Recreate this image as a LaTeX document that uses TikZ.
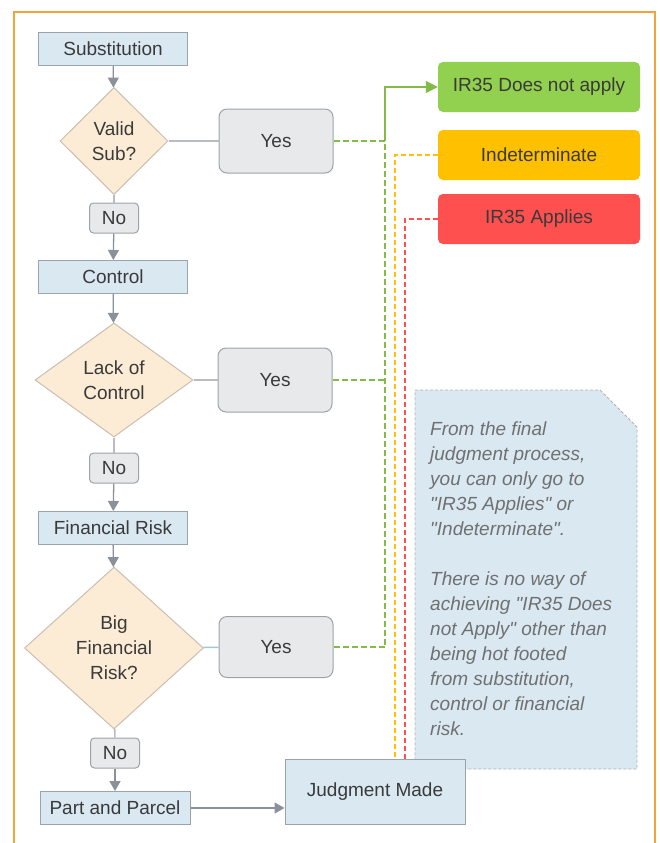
\documentclass[tikz,border=0pt]{standalone}
\usepackage{fontspec}
\setmainfont{Liberation Sans}
\newfontfamily\notefont{Liberation Sans}
\usepackage{xcolor}
\usetikzlibrary{shapes.geometric,arrows.meta,positioning}
\definecolor{boxblue}{HTML}{DAE8F2}
\definecolor{boxline}{HTML}{9AA4AC}
\definecolor{peach}{HTML}{FCEBD5}
\definecolor{peachline}{HTML}{C9C0B2}
\definecolor{ansgray}{HTML}{E8E9EB}
\definecolor{ansline}{HTML}{9EA3A8}
\definecolor{flowgray}{HTML}{8A9198}
\definecolor{txt}{HTML}{3A3A3A}
\definecolor{notetxt}{HTML}{707070}
\definecolor{okgreen}{HTML}{92D050}
\definecolor{indyellow}{HTML}{FFC000}
\definecolor{badred}{HTML}{FF5050}
\definecolor{frameorange}{HTML}{F2A33A}
\tikzset{
  stepbox/.style={rectangle, draw=boxline, fill=boxblue, line width=1pt,
                  minimum width=149pt, minimum height=33pt, inner sep=0pt,
                  text=txt, font=\fontsize{19}{25}\selectfont},
  decision/.style={diamond, draw=peachline, fill=peach, line width=1pt,
                   inner sep=0pt, align=center, text=txt,
                   font=\fontsize{19}{25}\selectfont},
  answer/.style={rectangle, rounded corners=8pt, draw=ansline, fill=ansgray,
                 line width=1pt, minimum width=114pt, minimum height=64pt,
                 inner sep=0pt, text=txt, font=\fontsize{19}{25}\selectfont},
  noans/.style={answer, rounded corners=4pt, minimum width=49pt,
                minimum height=30pt},
  outcome/.style={rectangle, rounded corners=5pt, minimum width=202pt,
                  minimum height=50pt, inner sep=0pt, text=txt,
                  font=\fontsize{19}{25}\selectfont},
  flow/.style={draw=flowgray, line width=1.3pt,
               -{Triangle[length=10pt,width=11pt]}},
  link/.style={draw=flowgray!60, line width=1.6pt},
  yesdash/.style={draw=okgreen!90!black, line width=1.7pt,
                  dash pattern=on 6pt off 3pt},
  inddash/.style={draw=indyellow, line width=1.6pt, dash pattern=on 5pt off 3pt},
  baddash/.style={draw=badred, line width=1.6pt, dash pattern=on 5pt off 3pt}
}

\begin{document}
\begin{tikzpicture}[x=1pt,y=-1pt]
  \useasboundingbox (0,0) rectangle (660,843);
  \clip (0,0) rectangle (660,843);
  % frame
  \draw[frameorange, line width=2pt] (14,860) -- (14,12) -- (655,12) -- (655,860);
  % note
  \draw[fill=boxblue, draw=gray!60, densely dashed, line width=0.8pt]
    (415,390) -- (600,390) -- (637,427) -- (637,769) -- (415,769) -- cycle;
  \node[anchor=north west, inner sep=0pt, align=left, text=notetxt,
        font=\notefont\fontsize{19}{25}\selectfont\itshape] (note) at (430,422)
    {From the final\\judgment process,\\you can only go to\\
     "IR35 Applies" or\\"Indeterminate".\\[25pt]
     There is no way of\\achieving "IR35 Does\\not Apply" other than\\
     being hot footed\\from substitution,\\control or financial\\risk.};

  % main column
  \node[stepbox] (sub) at (113,49) {Substitution};
  \node[decision, minimum width=108pt, minimum height=107pt] (dsub) at (114,141) {Valid\\Sub?};
  \node[answer] (yesa) at (276,141) {Yes};
  \node[noans] (noa) at (114,218) {No};
  \node[stepbox] (ctl) at (113,277) {Control};
  \node[decision, minimum width=158pt, minimum height=114pt] (dctl) at (114,380) {Lack of\\Control};
  \node[answer] (yesb) at (275,380) {Yes};
  \node[noans] (nob) at (114,468) {No};
  \node[stepbox] (fin) at (113,528) {Financial Risk};
  \node[decision, minimum width=179pt, minimum height=162pt] (dfin) at (114,648) {Big\\Financial\\Risk?};
  \node[answer, minimum height=61pt] (yesc) at (276,647) {Yes};
  \node[noans] (noc) at (115,753) {No};
  \node[stepbox, minimum width=150pt] (pp) at (115,808) {Part and Parcel};
  \node[stepbox, minimum width=180pt, minimum height=65pt] (jm) at (375,792) {Judgment Made};

  % outcomes
  \node[outcome, fill=okgreen] (dna) at (539,87) {IR35 Does not apply};
  \node[outcome, fill=indyellow] (ind) at (539,155) {Indeterminate};
  \node[outcome, fill=badred] (app) at (539,219) {IR35 Applies};
  \coordinate (trunk) at (385,0);

  % flow
  \draw[flow] (sub) -- (dsub);
  \draw[link] (dsub) -- (noa);
  \draw[flow] (noa) -- (ctl);
  \draw[flow] (ctl) -- (dctl);
  \draw[link] (dctl) -- (nob);
  \draw[flow] (nob) -- (fin);
  \draw[flow] (fin) -- (dfin);
  \draw[link] (dfin) -- (noc);
  \draw[flow] (noc) -- (pp);
  \draw[flow] (pp.east) -- (pp.east -| jm.west);
  \draw[link] (dsub) -- (yesa);
  \draw[link] (dctl) -- (yesb);
  \draw[link, draw=cyan!40!gray!60] (dfin) -- (yesc);

  % to the outcomes
  \draw[yesdash] (yesc.east) -- (yesc.east -| trunk) -- (yesa.east -| trunk);
  \draw[yesdash] (yesb.east) -- (yesb.east -| trunk);
  \draw[yesdash] (yesa.east) -- (yesa.east -| trunk);
  \draw[draw=okgreen!90!black, line width=1.6pt, -{Triangle[length=12pt,width=12pt]}]
    (yesa.east -| trunk) |- (dna.west);
  \draw[inddash] (ind.west) -| ([xshift=20pt]jm.north);
  \draw[baddash] (app.west) -| ([xshift=30pt]jm.north);
\end{tikzpicture}
\end{document}
